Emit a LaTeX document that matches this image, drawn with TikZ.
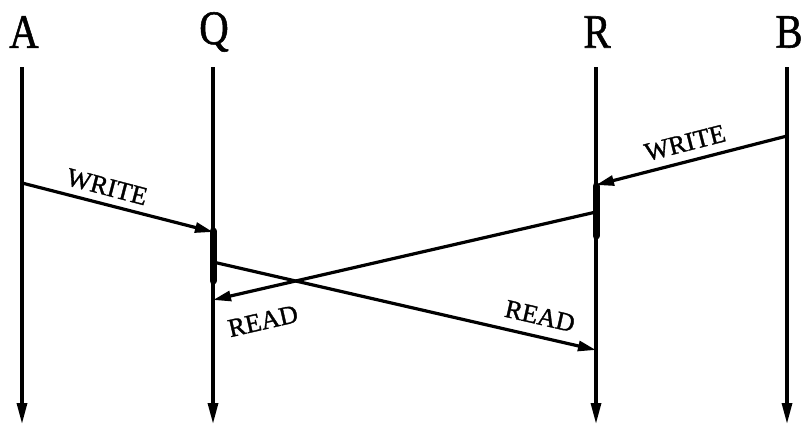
\documentclass[tikz,border=0pt]{standalone}
\usepackage{fontspec}
\setmainfont[FakeBold=1.2]{Liberation Serif}
\usetikzlibrary{arrows.meta}
\begin{document}
\begin{tikzpicture}[x=1pt,y=-1pt,
  lifeline/.style={line width=3.2pt,-{Triangle[length=21pt,width=10pt]}},
  msg/.style={line width=3.2pt,-{Triangle[length=18pt,width=10pt]}},
  busy/.style={line width=7pt,line cap=round},
  head/.style={inner sep=0pt,font=\fontsize{48}{50}\selectfont},
  lbl/.style={inner sep=0pt,font=\fontsize{26}{28}\selectfont}]
\useasboundingbox (0,0) rectangle (802,428);
% process names
\node[head] (hA) at (24,32) {\scalebox{0.85}[1]{A}};
\node[head] (hQ) at (214,32) {\scalebox{0.85}[1]{Q}};
\node[head] (hR) at (597,32) {\scalebox{0.85}[1]{R}};
\node[head] (hB) at (789,32) {\scalebox{0.85}[1]{B}};
% lifeline ends
\coordinate (At) at (22,67); \coordinate (Ab) at (22,424);
\coordinate (Qt) at (213,67); \coordinate (Qb) at (213,424);
\coordinate (Rt) at (596,67); \coordinate (Rb) at (596,424);
\coordinate (Bt) at (787,67); \coordinate (Bb) at (787,424);
\draw[lifeline] (At) -- (Ab);
\draw[lifeline] (Qt) -- (Qb);
\draw[lifeline] (Rt) -- (Rb);
\draw[lifeline] (Bt) -- (Bb);
% event points
\coordinate (a1) at (22,183);
\coordinate (q1) at (213,232);
\coordinate (q2) at (213,262);
\coordinate (q3) at (213,300);
\coordinate (r1) at (596,185);
\coordinate (r2) at (596,212);
\coordinate (r3) at (596,350);
\coordinate (b1) at (787,136);
% busy bars
\coordinate (qs) at (213,231); \coordinate (qe) at (213,281);
\coordinate (rs) at (596,186); \coordinate (re) at (596,236);
\draw[busy] (qs) -- (qe);
\draw[busy] (rs) -- (re);
% messages
\draw[msg] (a1) -- (q1);
\draw[msg] (q2) -- (r3);
\draw[msg] (b1) -- (r1);
\draw[msg] (r2) -- (q3);
% labels
\node[lbl,rotate=-14.7] (w1) at (107,187) {WRITE};
\node[lbl,rotate=14.3] (w2) at (685,143) {WRITE};
\node[lbl,rotate=12.9] (rd1) at (263,321) {READ};
\node[lbl,rotate=-12.9] (rd2) at (540,316) {READ};
\end{tikzpicture}
\end{document}
